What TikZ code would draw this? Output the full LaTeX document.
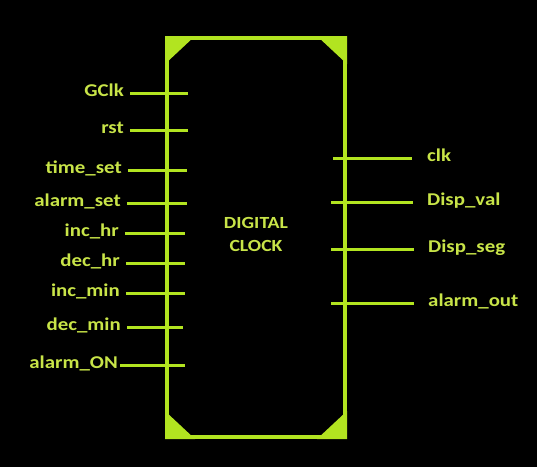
\documentclass[tikz,border=0pt]{standalone}
\usepackage{fontspec}
\setmainfont{Carlito}[FakeStretch=1.16]
\usepackage{xcolor}
\usepackage{tikz}
\usetikzlibrary{positioning}
\definecolor{limeline}{RGB}{178,228,32}
\definecolor{limetext}{RGB}{200,228,72}
\tikzstyle{pinline} = [line width=3pt, draw=limeline]
\tikzstyle{inlabel} = [anchor=east, inner sep=1pt, text=limetext,
  font=\fontsize{18}{18}\selectfont\bfseries, text height=0.64em, text depth=0em]
\tikzstyle{outlabel} = [anchor=west, inner sep=1pt, text=limetext,
  font=\fontsize{18}{18}\selectfont\bfseries, text height=0.64em, text depth=0em]

\begin{document}
\begin{tikzpicture}[x=1pt, y=-1pt,
  chip/.style={rectangle, draw=limeline, line width=4pt,
    minimum width=178pt, minimum height=399pt, inner sep=0pt},
  corner/.style={fill=limeline}]

\fill[black] (0,0) rectangle (537,467);
\useasboundingbox (0,0) rectangle (537,467);

% block
\node (clock) [chip] at (256,237.5) {};
\node (title) [text=limetext, align=center,
  font=\fontsize{17}{23}\selectfont\bfseries] at (256,234)
  {DIGITAL\\CLOCK};

\fill[corner] (clock.north west) -- ++(30,0) -- ++(-30,28) -- cycle;
\fill[corner] (clock.north east) -- ++(-30,0) -- ++(30,28) -- cycle;
\fill[corner] (clock.south west) -- ++(30,0) -- ++(-30,-28) -- cycle;
\fill[corner] (clock.south east) -- ++(-30,0) -- ++(30,-28) -- cycle;

% inputs
\coordinate (gclk_a) at (130,93);   \coordinate (gclk_b) at (188,93);
\coordinate (rst_a) at (130,130);   \coordinate (rst_b) at (188,130);
\coordinate (tset_a) at (128,170);  \coordinate (tset_b) at (187,170);
\coordinate (aset_a) at (127,203);  \coordinate (aset_b) at (187,203);
\coordinate (inchr_a) at (125,233); \coordinate (inchr_b) at (185,233);
\coordinate (dechr_a) at (126,263); \coordinate (dechr_b) at (185,263);
\coordinate (incmin_a) at (126,293);\coordinate (incmin_b) at (185,293);
\coordinate (decmin_a) at (127,327);\coordinate (decmin_b) at (183,327);
\coordinate (alon_a) at (120,365);  \coordinate (alon_b) at (185,365);

\node (gclk) [inlabel, left=5pt of gclk_a] {GClk};
\node (rst) [inlabel, left=5pt of rst_a] {rst};
\node (tset) [inlabel, left=5pt of tset_a] {time\_set};
\node (aset) [inlabel, left=5pt of aset_a] {alarm\_set};
\node (inchr) [inlabel, left=5pt of inchr_a] {inc\_hr};
\node (dechr) [inlabel, left=5pt of dechr_a] {dec\_hr};
\node (incmin) [inlabel, left=5pt of incmin_a] {inc\_min};
\node (decmin) [inlabel, left=5pt of decmin_a] {dec\_min};
\node (alon) [inlabel, left=1pt of alon_a] {alarm\_ON};

\draw [pinline] (gclk_a) -- (gclk_b);
\draw [pinline] (rst_a) -- (rst_b);
\draw [pinline] (tset_a) -- (tset_b);
\draw [pinline] (aset_a) -- (aset_b);
\draw [pinline] (inchr_a) -- (inchr_b);
\draw [pinline] (dechr_a) -- (dechr_b);
\draw [pinline] (incmin_a) -- (incmin_b);
\draw [pinline] (decmin_a) -- (decmin_b);
\draw [pinline] (alon_a) -- (alon_b);

% outputs
\coordinate (clk_a) at (333,158);   \coordinate (clk_b) at (412,158);
\coordinate (dval_a) at (331,202);  \coordinate (dval_b) at (413,202);
\coordinate (dseg_a) at (331,249);  \coordinate (dseg_b) at (414,249);
\coordinate (aout_a) at (331,303);  \coordinate (aout_b) at (414,303);

\node (clk) [outlabel, right=14pt of clk_b] {clk};
\node (dval) [outlabel, right=13pt of dval_b] {Disp\_val};
\node (dseg) [outlabel, right=13pt of dseg_b] {Disp\_seg};
\node (aout) [outlabel, right=13pt of aout_b] {alarm\_out};

\draw [pinline] (clk_a) -- (clk_b);
\draw [pinline] (dval_a) -- (dval_b);
\draw [pinline] (dseg_a) -- (dseg_b);
\draw [pinline] (aout_a) -- (aout_b);

\end{tikzpicture}
\end{document}
